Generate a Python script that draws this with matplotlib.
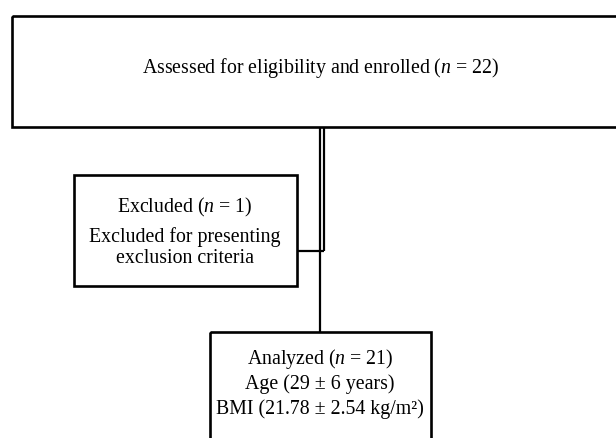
import matplotlib
matplotlib.use("Agg")
import matplotlib.pyplot as plt
from matplotlib.patches import Rectangle

plt.rcParams['font.family'] = ['Liberation Serif', 'DejaVu Serif']
plt.rcParams['mathtext.fontset'] = 'custom'
plt.rcParams['mathtext.rm'] = 'Liberation Serif'
plt.rcParams['mathtext.it'] = 'Liberation Serif:italic'

# Flowchart content
enrolled_lines = ["Assessed for eligibility and enrolled ($n$ = 22)"]
excluded_lines = ["Excluded ($n$ = 1)", "Excluded for presenting", "exclusion criteria"]
analyzed_lines = ["Analyzed ($n$ = 21)", "Age (29 ± 6 years)", "BMI (21.78 ± 2.54 kg/m²)"]

W, H = 616, 439
fig = plt.figure(figsize=(W / 100, H / 100), dpi=100)
ax = fig.add_axes([0, 0, 1, 1])
ax.set_xlim(0, W)
ax.set_ylim(H, 0)
ax.axis('off')

LW = 1.6
FS = 14.3

def box(x0, y0, x1, y1):
    ax.add_patch(Rectangle((x0, y0), x1 - x0, y1 - y0, fill=False,
                           edgecolor='black', linewidth=LW + 0.3, zorder=2))

# Top box (extends beyond right edge)
box(11.5, 16.5, 640, 127.5)
ax.text(321, 73, enrolled_lines[0], ha='center', va='baseline', fontsize=FS)

# Excluded box
box(73.5, 175.5, 296.5, 286.5)
ex_y = [212, 242, 263]
for t, y in zip(excluded_lines, ex_y):
    ax.text(185, y, t, ha='center', va='baseline', fontsize=FS)

# Analyzed box (extends beyond bottom edge)
box(209.5, 332.5, 431, 460)
an_y = [364, 389, 414]
for t, y in zip(analyzed_lines, an_y):
    ax.text(320, y, t, ha='center', va='baseline', fontsize=FS)

# Connectors
ax.plot([319.5, 319.5], [127.5, 332.5], color='black', lw=LW, solid_capstyle='butt')
ax.plot([323.5, 323.5], [127.5, 252], color='black', lw=LW, solid_capstyle='butt')
ax.plot([296.5, 324.2], [252, 252], color='black', lw=LW, solid_capstyle='butt')

fig.savefig("out.png", dpi=100, facecolor='white')
